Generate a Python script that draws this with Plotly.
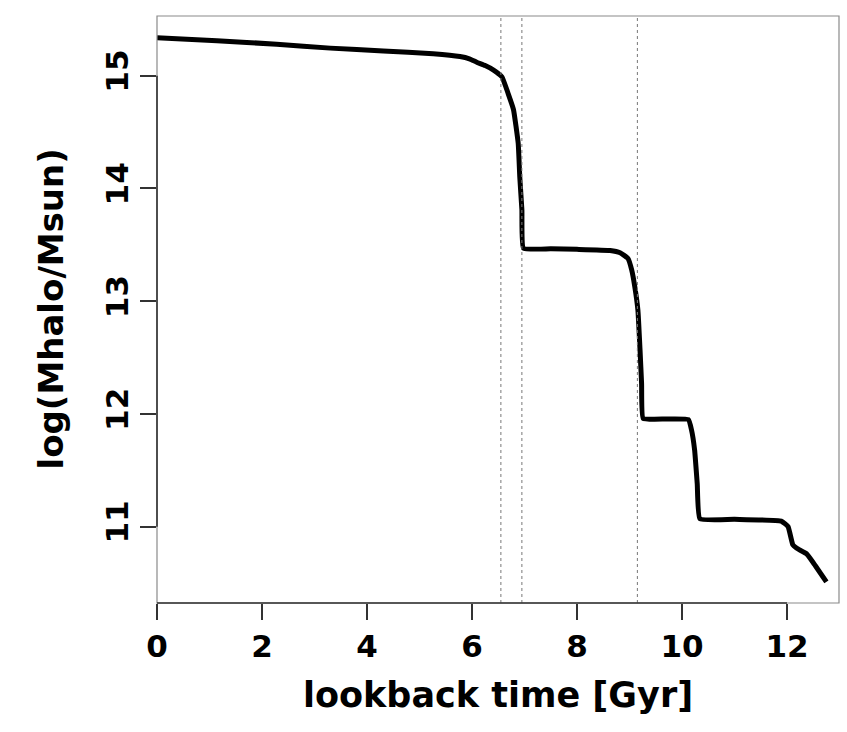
import plotly.graph_objects as go

# Halo mass assembly history: lookback time [Gyr] vs log halo mass
lookback_gyr = [0.00, 1.14, 2.28, 3.30, 4.31, 5.26, 5.77, 5.95, 6.09, 6.25, 6.41,
                6.57, 6.69, 6.79, 6.88, 6.91, 6.95, 6.98, 7.50, 8.00, 8.63, 8.82,
                8.97, 9.04, 9.10, 9.16, 9.20, 9.23, 9.26, 9.70, 10.12, 10.18,
                10.24, 10.29, 10.34, 11.00, 11.89, 12.02, 12.11, 12.18, 12.37,
                12.50, 12.75]
log_mhalo = [15.337, 15.31, 15.28, 15.245, 15.22, 15.195, 15.17, 15.15, 15.12, 15.09, 15.05,
             14.99, 14.84, 14.70, 14.40, 14.10, 13.81, 13.47, 13.465, 13.46, 13.45, 13.43,
             13.38, 13.28, 13.13, 12.92, 12.57, 12.27, 11.96, 11.955, 11.95, 11.86,
             11.68, 11.38, 11.07, 11.065, 11.05, 11.00, 10.84, 10.81, 10.76,
             10.68, 10.51]

# Epochs marked with dotted vertical lines
marker_times = [6.55, 6.95, 9.15]

x_ticks = [0, 2, 4, 6, 8, 10, 12]
y_ticks = [11, 12, 13, 14, 15]
x_range = [0, 12.99]
y_range = [10.323, 15.53]

FONT = "DejaVu Sans"

fig = go.Figure()
fig.add_trace(go.Scatter(
    x=lookback_gyr, y=log_mhalo, mode="lines",
    line=dict(color="black", width=5, shape="spline", smoothing=0.35),
    hoverinfo="skip", showlegend=False))

shapes = []
for t in marker_times:
    shapes.append(dict(type="line", xref="x", yref="paper", x0=t, x1=t, y0=0, y1=1,
                       line=dict(color="#777777", width=1, dash="dot")))
# frame around the plotting region
shapes.append(dict(type="rect", xref="paper", yref="paper", x0=0, x1=1, y0=0, y1=1,
                   line=dict(color="#8a8a8a", width=1.2)))
# axis lines spanning the first to last tick
shapes.append(dict(type="line", xref="x", yref="paper", x0=min(x_ticks), x1=max(x_ticks),
                   y0=0, y1=0, line=dict(color="#333333", width=1.6)))
shapes.append(dict(type="line", xref="paper", yref="y", x0=0, x1=0,
                   y0=min(y_ticks), y1=max(y_ticks), line=dict(color="#333333", width=1.6)))

fig.update_layout(
    width=847, height=732,
    margin=dict(l=157, r=8, t=16, b=129, pad=0),
    paper_bgcolor="white", plot_bgcolor="white",
    font=dict(family=FONT, color="black"),
    shapes=shapes,
    xaxis=dict(range=x_range, tickvals=x_ticks, ticktext=[str(v) for v in x_ticks],
               ticks="outside", ticklen=16, tickwidth=1.6, tickcolor="#333333",
               showgrid=False, zeroline=False, showline=False,
               tickfont=dict(family=FONT, size=31, weight="bold", color="black")),
    yaxis=dict(range=y_range, tickvals=y_ticks, ticktext=[str(v) for v in y_ticks],
               ticks="outside", ticklen=16, tickwidth=1.6, tickcolor="#333333",
               tickangle=-90,
               showgrid=False, zeroline=False, showline=False,
               tickfont=dict(family=FONT, size=31, weight="bold", color="black")),
    annotations=[
        dict(text="lookback time [Gyr]", xref="paper", yref="paper", x=0.5, y=0,
             xanchor="center", yanchor="middle", yshift=-92, showarrow=False,
             font=dict(family=FONT, size=35, weight="bold", color="black")),
        dict(text="log(Mhalo/Msun)", xref="paper", yref="paper", x=0, y=0.5,
             xanchor="center", yanchor="middle", xshift=-107, textangle=-90,
             showarrow=False,
             font=dict(family=FONT, size=34, weight="bold", color="black")),
    ],
)

fig.write_html("out.html")
